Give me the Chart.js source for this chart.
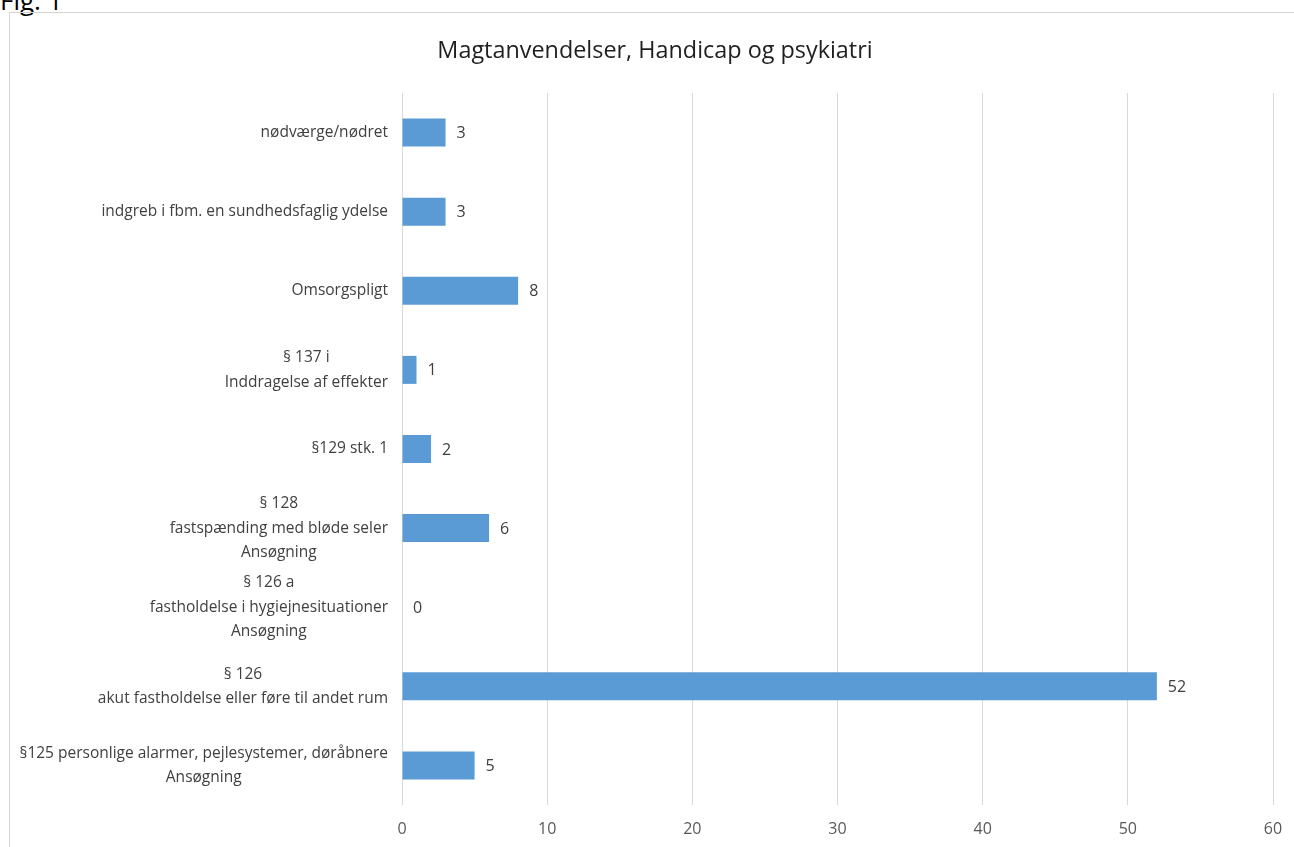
<!DOCTYPE html>
<html>
<head>
<meta charset="utf-8">
<script src="https://cdn.jsdelivr.net/npm/chart.js@4.4.1/dist/chart.umd.min.js"></script>
<style>
  html, body { margin: 0; padding: 0; background: #fff; overflow: hidden; }
  body { width: 1294px; height: 847px; position: relative; }
  #fig { position: absolute; left: 0; top: -18px; font: 26px 'Open Sans', sans-serif; color: #000; }
  #frame { position: absolute; left: 9px; top: 12px; width: 1400px; height: 900px; border: 1px solid #d4d4d4; }
  #chart { position: absolute; left: 0; top: 0; }
</style>
</head>
<body>
<div id="fig">Fig. 1</div>
<div id="frame"></div>
<canvas id="chart" width="1294" height="847"></canvas>
<script>
  // Kategorier (øverst først)
  var categories = [
    'nødværge/nødret',
    'indgreb i fbm. en sundhedsfaglig ydelse',
    'Omsorgspligt',
    ['§ 137 i', 'Inddragelse af effekter'],
    '§129 stk. 1',
    ['§ 128', 'fastspænding med bløde seler', 'Ansøgning'],
    ['§ 126 a', 'fastholdelse i hygiejnesituationer', 'Ansøgning'],
    ['§ 126', 'akut fastholdelse eller føre til andet rum'],
    ['§125 personlige alarmer, pejlesystemer, døråbnere', 'Ansøgning']
  ];
  var values = [3, 3, 8, 1, 2, 6, 0, 52, 5];
  var xTicks = [0, 10, 20, 30, 40, 50, 60];

  var FONT = "'Open Sans', sans-serif";

  // Værdier til højre for søjlerne
  var valueLabels = {
    id: 'valueLabels',
    afterDatasetsDraw: function (chart) {
      var ctx = chart.ctx;
      var meta = chart.getDatasetMeta(0);
      ctx.save();
      ctx.font = '16px ' + FONT;
      ctx.fillStyle = '#404040';
      ctx.textAlign = 'left';
      ctx.textBaseline = 'middle';
      meta.data.forEach(function (bar, i) {
        ctx.fillText(String(values[i]), bar.x + 11, bar.y + 1);
      });
      ctx.restore();
    }
  };

  // Kategoritekst, centreret linje for linje som i Excel
  var categoryLabels = {
    id: 'categoryLabels',
    afterDraw: function (chart) {
      var ctx = chart.ctx;
      var yScale = chart.scales.y;
      var lineH = 24.5;
      ctx.save();
      ctx.font = '15.5px ' + FONT;
      ctx.fillStyle = '#404040';
      ctx.textAlign = 'center';
      ctx.textBaseline = 'middle';
      categories.forEach(function (cat, i) {
        var lines = Array.isArray(cat) ? cat : [cat];
        var blockW = 0;
        lines.forEach(function (l) {
          blockW = Math.max(blockW, ctx.measureText(l).width);
        });
        var cx = yScale.right - 14 - blockW / 2;
        var y0 = yScale.getPixelForTick(i) - (lines.length - 1) * lineH / 2;
        lines.forEach(function (l, j) {
          ctx.fillText(l, cx, y0 + j * lineH);
        });
      });
      ctx.restore();
    }
  };

  new Chart(document.getElementById('chart').getContext('2d'), {
    type: 'bar',
    data: {
      labels: categories,
      datasets: [{
        data: values,
        backgroundColor: '#5b9bd5',
        borderWidth: 0,
        categoryPercentage: 1,
        barPercentage: 0.354
      }]
    },
    options: {
      indexAxis: 'y',
      responsive: false,
      animation: false,
      devicePixelRatio: 1,
      layout: { padding: { left: 37, right: 21, top: 0, bottom: 0 } },
      plugins: {
        legend: { display: false },
        tooltip: { enabled: false },
        title: {
          display: true,
          text: 'Magtanvendelser, Handicap og psykiatri',
          color: '#1f1f1f',
          font: { family: FONT, size: 23.4, weight: 'normal' },
          padding: { top: 37, bottom: 27.9 }
        }
      },
      scales: {
        x: {
          min: 0,
          max: 60,
          afterBuildTicks: function (scale) {
            scale.ticks = xTicks.map(function (v) { return { value: v }; });
          },
          afterFit: function (scale) {
            scale.height = 42;
            scale.paddingLeft = 0;
            scale.paddingRight = 0;
          },
          grid: { color: '#d9d9d9', lineWidth: 1, drawTicks: false },
          border: { display: false },
          ticks: { color: '#595959', font: { family: FONT, size: 16 }, padding: 15 }
        },
        y: {
          afterFit: function (scale) { scale.width = 365; },
          grid: { display: false },
          border: { display: false },
          ticks: { display: false }
        }
      }
    },
    plugins: [valueLabels, categoryLabels]
  });
</script>
</body>
</html>
